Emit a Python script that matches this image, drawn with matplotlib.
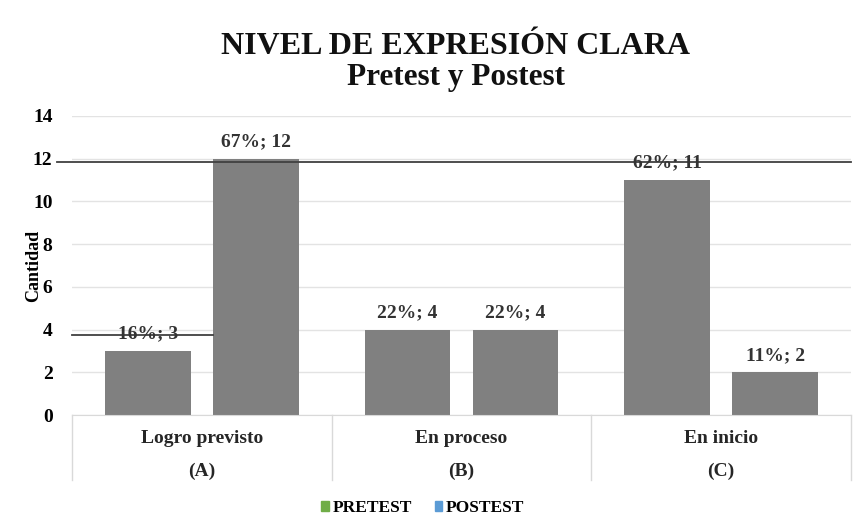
import matplotlib.pyplot as plt
import numpy as np
from matplotlib.patches import Patch
from matplotlib.transforms import blended_transform_factory

categorias = ["Logro previsto", "En proceso", "En inicio"]
letras = ["(A)", "(B)", "(C)"]
pretest = [3, 4, 11]
postest = [12, 4, 2]
pct_pre = ["16%", "22%", "62%"]
pct_post = ["67%", "22%", "11%"]

plt.rcParams['font.family'] = ['Liberation Serif', 'DejaVu Serif']

fig = plt.figure(figsize=(8.63, 5.27), dpi=100)
ax = fig.add_axes([0.0834, 0.2125, 0.9026, 0.5674])

x = np.arange(len(categorias))
w = 0.33
off = 0.208
gris = "#808080"
ax.bar(x - off, pretest, w, color=gris)
ax.bar(x + off, postest, w, color=gris)

for i in range(len(categorias)):
    ax.text(x[i] - off, pretest[i] + 0.4, f"{pct_pre[i]}; {pretest[i]}",
            ha="center", va="bottom", fontsize=14, fontweight="bold", color="#333333")
    ax.text(x[i] + off, postest[i] + 0.4, f"{pct_post[i]}; {postest[i]}",
            ha="center", va="bottom", fontsize=14, fontweight="bold", color="#333333")

ax.set_xlim(-0.5, 2.5)
ax.set_ylim(0, 14)
ax.set_yticks(range(0, 15, 2))
ax.tick_params(axis="y", length=0, labelsize=14, pad=14)
for lab in ax.get_yticklabels():
    lab.set_fontweight("bold")
ax.set_xticks([])
ax.yaxis.grid(True, color="#e3e3e3", linewidth=1)
ax.set_axisbelow(True)
for s in ["left", "right", "top"]:
    ax.spines[s].set_visible(False)
ax.spines["bottom"].set_color("#d9d9d9")

ax.set_ylabel("Cantidad", fontsize=13, fontweight="bold")
ax.yaxis.set_label_coords(-0.038, 0.5)

# etiquetas de categoria en dos niveles
tr = blended_transform_factory(ax.transData, ax.transAxes)
for i in range(len(categorias)):
    ax.text(x[i], -0.08, categorias[i], transform=tr, ha="center", va="center",
            fontsize=14, fontweight="bold", color="#262626")
    ax.text(x[i], -0.19, letras[i], transform=tr, ha="center", va="center",
            fontsize=14, fontweight="bold", color="#262626")
for b in [-0.5, 0.5, 1.5, 2.5]:
    ax.plot([b, b], [0, -0.217], transform=tr, color="#d9d9d9", lw=1, clip_on=False)

# lineas negras
ax.axhline(11.85, xmin=-0.019, xmax=1.0, color="#404040", lw=1.3, clip_on=False)
ax.axhline(3.75, xmin=0.0, xmax=0.181, color="#404040", lw=1.3, clip_on=False)

fig.text(0.528, 0.912, "NIVEL DE EXPRESIÓN CLARA", ha="center", va="center",
         fontsize=23, fontweight="bold", color="#111111")
fig.text(0.528, 0.852, "Pretest y Postest", ha="center", va="center",
         fontsize=22.5, fontweight="bold", color="#111111")

handles = [Patch(color="#70AD47"), Patch(color="#5B9BD5")]
fig.legend(handles, ["PRETEST", "POSTEST"], loc="center", bbox_to_anchor=(0.490, 0.036),
           ncol=2, frameon=False, handlelength=0.45, handleheight=0.45, handletextpad=0.2,
           columnspacing=1.3, prop={"weight": "bold", "size": 12.5})

fig.savefig("out.png", dpi=100)
